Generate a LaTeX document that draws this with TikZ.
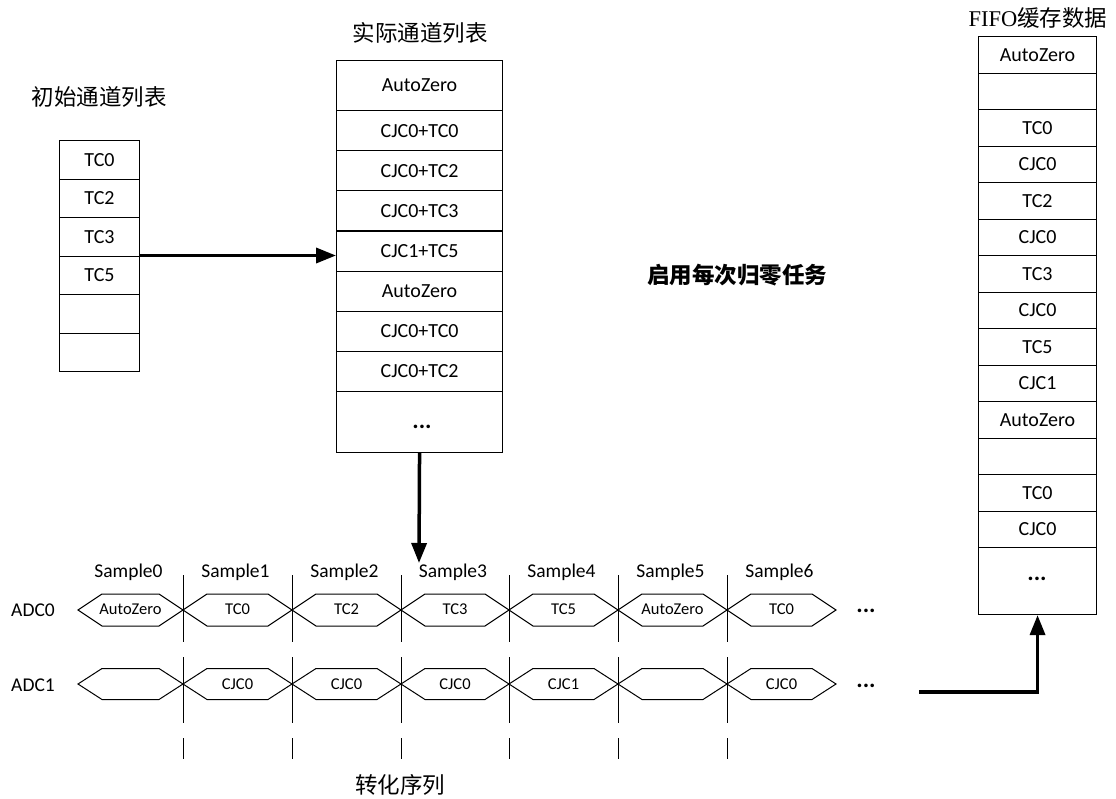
\documentclass[tikz,border=0pt]{standalone}
\usepackage{fontspec}
\setmainfont{Carlito}
\newfontfamily\cjk{Noto Sans CJK SC}
\newfontfamily\tnr{Liberation Serif}
\usetikzlibrary{arrows.meta}

\tikzset{
  cell/.style={draw, line width=1.1pt, anchor=north west, inner sep=0pt,
    font=\fontsize{20}{24}\selectfont},
  wave/.style={line width=1pt, line join=miter},
  tick/.style={line width=1pt},
  title/.style={font=\cjk\fontsize{22.5}{26}\selectfont},
  label/.style={font=\fontsize{19.5}{23}\selectfont},
  inlabel/.style={font=\fontsize{16.5}{20}\selectfont},
  dots/.style={inner sep=0pt, font=\bfseries\fontsize{24}{28}\selectfont},
  bigarrow/.style={line width=3.5pt, -{Triangle[length=20pt,width=15pt]}},
}

\begin{document}
\begin{tikzpicture}[x=1pt,y=-1pt]
  \useasboundingbox (0,0) rectangle (1116,798);

  % initial channel list
  \node[title] (initt) at (99,97) {初始通道列表};
  \foreach \t [count=\i] in {TC0,TC2,TC3,TC5,{},{}}
    \node[cell, minimum width=80pt, minimum height=38.5pt] (ini\i) at (59,{140+(\i-1)*38.5}) {\t};

  % actual channel list
  \node[title] (actt) at (420,33) {实际通道列表};
  \node[cell, minimum width=166pt, minimum height=50pt] (act1) at (336,60) {AutoZero};
  \foreach \t [count=\i from 2] in {CJC0+TC0,CJC0+TC2,CJC0+TC3,CJC1+TC5,AutoZero,CJC0+TC0,CJC0+TC2}
    \node[cell, minimum width=166pt, minimum height=40.14pt] (act\i) at (336,{110+(\i-2)*40.14}) {\t};
  \node[cell, minimum width=166pt, minimum height=61pt] (act9) at (336,391) {};
  \node[dots] (actdots) at (422,427) {...};

  % fifo data
  \node[title] (fifot) at (1038,18) {{\tnr FIFO}缓存数据};
  \foreach \t [count=\i] in {AutoZero,{},TC0,CJC0,TC2,CJC0,TC3,CJC0,TC5,CJC1,AutoZero,{},TC0,CJC0}
    \node[cell, minimum width=118pt, minimum height=36.5pt] (fifo\i) at (978,{36+(\i-1)*36.5}) {\t};
  \node[cell, minimum width=118pt, minimum height=67pt] (fifo15) at (978,547) {};
  \node[dots] (fifodots) at (1037,579) {...};

  % task
  \node[title, font=\cjk\bfseries\fontsize{22.5}{26}\selectfont] (task) at (737,275) {启用每次归零任务};

  % conversion sequence
  \node[label] (adc0) at (33,610) {ADC0};
  \node[label] (adc1) at (33,685) {ADC1};
  \foreach \a/\b/\u/\d [count=\i from 0] in {78/183/AutoZero/{},183/292/TC0/CJC0,292/401/TC2/CJC0,401/509/TC3/CJC0,509/618/TC5/CJC1,618/727/AutoZero/{},727/836/TC0/CJC0}
  {
    \draw[wave] (\a,610) -- ({\a+24},594) -- ({\b-24},594) -- (\b,610)
      -- ({\b-24},626) -- ({\a+24},626) -- cycle;
    \draw[wave] (\a,684) -- ({\a+24},668.5) -- ({\b-24},668.5) -- (\b,684)
      -- ({\b-24},699.5) -- ({\a+24},699.5) -- cycle;
    \node[label] (smp\i) at ({(\a+\b)/2-2},572) {Sample\i};
    \node[inlabel] (up\i) at ({(\a+\b)/2},609) {\u};
    \node[inlabel] (dn\i) at ({(\a+\b)/2},684) {\d};
  }
  \foreach \x in {183,292,401,509,618,727}
    \draw[tick] (\x,575) -- (\x,642) (\x,657) -- (\x,723) (\x,738) -- (\x,759);
  \node[dots] (more0) at (866,611) {...};
  \node[dots] (more1) at (866,686) {...};
  \node[title] (seqt) at (400,785) {转化序列};

  % arrows
  \coordinate (tip3) at (419,563);
  \coordinate (fin) at (919,692);
  \draw[bigarrow] (ini4.north east) -- (ini4.north east -| act5.west);
  \draw[bigarrow] (act9.south) -- (tip3);
  \draw[bigarrow] (fin) -| (fifo15.south);
\end{tikzpicture}
\end{document}
